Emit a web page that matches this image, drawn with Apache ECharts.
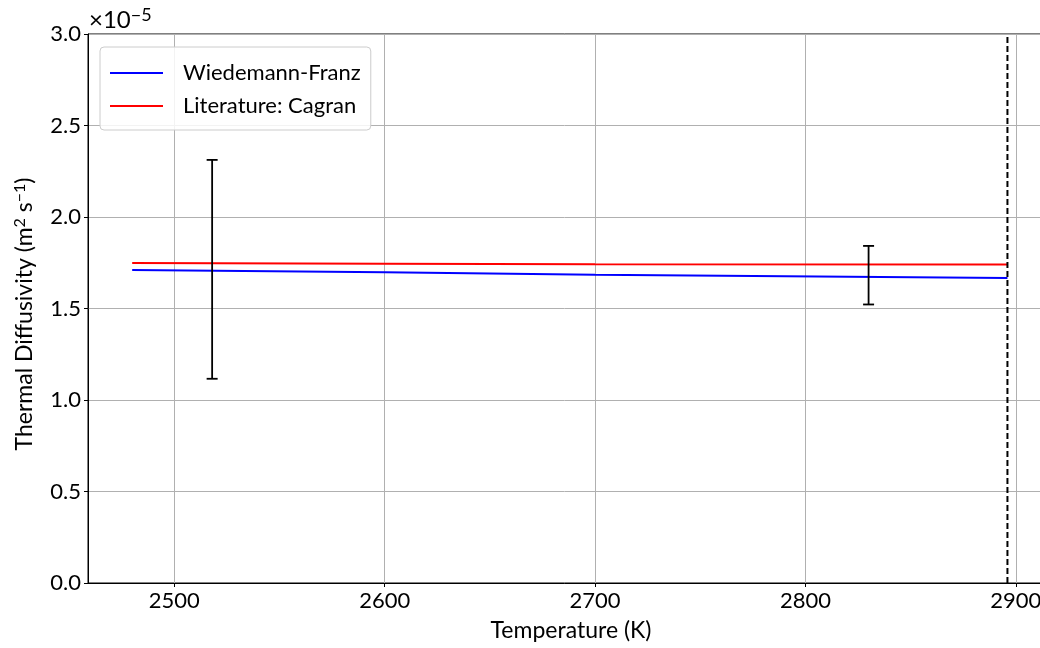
<!DOCTYPE html>
<html>
<head>
<meta charset="utf-8">
<title>Thermal Diffusivity vs Temperature</title>
<script src="https://cdn.jsdelivr.net/npm/echarts@6/dist/echarts.min.js"></script>
<style>
  html, body { margin: 0; padding: 0; background: #fff; }
  #chart { width: 1040px; height: 648px; }
</style>
</head>
<body>
<div id="chart"></div>
<script>
// Values are in units of 1e-5 m^2 s^-1 (shown as the axis offset "×10^-5").
const wfTemps = [2480, 2600, 2700, 2896];
const wfValues = [1.711, 1.698, 1.685, 1.666];

const cagranTemps = [2480, 2600, 2700, 2896];
const cagranValues = [1.749, 1.745, 1.742, 1.740];

// Measured points with error bars: temperature, lower bound, upper bound
const errTemps = [2518, 2830];
const errLow = [1.116, 1.522];
const errHigh = [2.312, 1.842];

// Melting point marker
const meltTemp = 2896;

const xTicks = [2500, 2600, 2700, 2800, 2900];
const yTicks = [0, 0.5, 1.0, 1.5, 2.0, 2.5, 3.0];

const FONT = 'Lato';
const chart = echarts.init(document.getElementById('chart'), null, { renderer: 'canvas' });

const pair = (xs, ys) => xs.map((x, i) => [x, ys[i]]);

const option = {
  animation: false,
  backgroundColor: '#ffffff',
  textStyle: { fontFamily: FONT },
  grid: {
    left: 88, top: 34, width: 955, height: 549,
    containLabel: false, outerBoundsMode: 'none',
    show: true, borderColor: '#000', borderWidth: 1, backgroundColor: 'transparent'
  },
  xAxis: {
    type: 'value',
    min: 2459, max: 2912.9,
    splitNumber: 5,
    axisLine: { show: true, lineStyle: { color: '#000', width: 1 } },
    axisTick: { show: true, length: 4, inside: false, lineStyle: { color: '#000' }, customValues: xTicks },
    axisLabel: {
      customValues: xTicks, fontSize: 22, color: '#000', margin: 7, fontFamily: FONT,
      formatter: v => String(v)
    },
    splitLine: { show: true, lineStyle: { color: '#b0b0b0', width: 1 } }
  },
  yAxis: {
    type: 'value',
    min: 0, max: 3, interval: 0.5,
    axisLine: { show: true, lineStyle: { color: '#000', width: 1 } },
    axisTick: { show: true, length: 4, lineStyle: { color: '#000' } },
    axisLabel: {
      fontSize: 22, color: '#000', margin: 7, fontFamily: FONT,
      formatter: v => yTicks.includes(v) ? v.toFixed(1) : ''
    },
    splitLine: { show: true, lineStyle: { color: '#b0b0b0', width: 1 } }
  },
  legend: {
    orient: 'vertical',
    left: 100, top: 47,
    padding: [15, 10, 13, 10],
    itemGap: 11,
    itemWidth: 53, itemHeight: 2,
    icon: 'rect',
    borderColor: '#cccccc', borderWidth: 1, borderRadius: 4,
    backgroundColor: 'rgba(255,255,255,0.85)',
    textStyle: { fontSize: 22, color: '#000', fontFamily: FONT, padding: [0, 0, 0, 15], lineHeight: 22 },
    data: ['Wiedemann-Franz', 'Literature: Cagran']
  },
  series: [
    {
      name: 'Wiedemann-Franz', type: 'line', data: pair(wfTemps, wfValues),
      symbol: 'none', color: '#0000ff', lineStyle: { color: '#0000ff', width: 2 }, z: 3
    },
    {
      name: 'Literature: Cagran', type: 'line', data: pair(cagranTemps, cagranValues),
      symbol: 'none', color: '#ff0000', lineStyle: { color: '#ff0000', width: 2 }, z: 3
    },
    {
      name: 'melt', type: 'line', data: [[meltTemp, 0], [meltTemp, 3]],
      symbol: 'none', color: '#000', lineStyle: { color: '#000', width: 2, type: [6, 3] }, z: 4
    },
    {
      name: 'errors', type: 'custom', z: 5,
      data: errTemps.map((t, i) => [t, errLow[i], errHigh[i]]),
      renderItem: (params, api) => {
        const lo = api.coord([api.value(0), api.value(1)]);
        const hi = api.coord([api.value(0), api.value(2)]);
        const cap = 5.5;
        const st = { stroke: '#000', lineWidth: 1.8 };
        return {
          type: 'group',
          children: [
            { type: 'line', shape: { x1: lo[0], y1: lo[1], x2: hi[0], y2: hi[1] }, style: st },
            { type: 'line', shape: { x1: lo[0] - cap, y1: lo[1], x2: lo[0] + cap, y2: lo[1] }, style: st },
            { type: 'line', shape: { x1: hi[0] - cap, y1: hi[1], x2: hi[0] + cap, y2: hi[1] }, style: st }
          ]
        };
      }
    }
  ],
  graphic: [
    {
      type: 'text', left: 89, top: 6,
      style: {
        text: '×10{sup|−5}',
        font: '24px ' + FONT, fill: '#000',
        rich: { sup: { fontSize: 18, padding: [0, 0, 11, 0], fontFamily: FONT } }
      }
    },
    {
      type: 'text', x: 571, y: 631,
      style: {
        text: 'Temperature (K)', font: '23px ' + FONT, fill: '#000',
        align: 'center', verticalAlign: 'middle'
      }
    },
    {
      type: 'text', x: 25, y: 314, rotation: Math.PI / 2,
      style: {
        text: 'Thermal Diffusivity (m{sup|2} s{sup|−1})', font: '23px ' + FONT, fill: '#000',
        align: 'center', verticalAlign: 'middle',
        rich: { sup: { fontSize: 16, padding: [0, 0, 10, 0], fontFamily: FONT } }
      }
    }
  ]
};

chart.setOption(option);
</script>
</body>
</html>
